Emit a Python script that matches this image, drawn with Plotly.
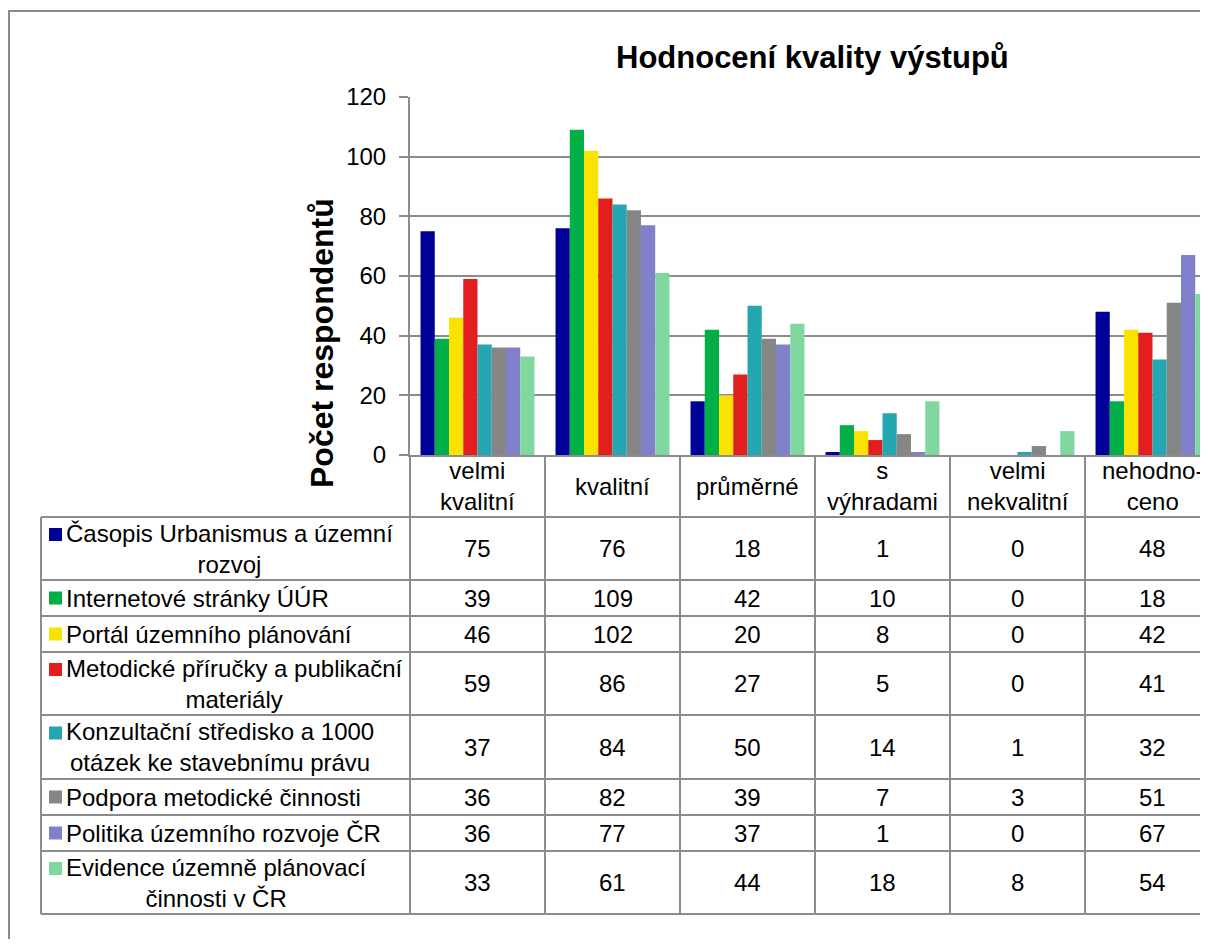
import plotly.graph_objects as go

# ---------------- data ----------------
categories = ["velmi\nkvalitní", "kvalitní", "průměrné", "s\nvýhradami", "velmi\nnekvalitní", "nehodno-\nceno"]
series_names = [
    "Časopis Urbanismus a územní\nrozvoj",
    "Internetové stránky ÚÚR",
    "Portál územního plánování",
    "Metodické příručky a publikační\nmateriály",
    "Konzultační středisko a 1000\notázek ke stavebnímu právu",
    "Podpora metodické činnosti",
    "Politika územního rozvoje ČR",
    "Evidence územně plánovací\nčinnosti v ČR",
]
casopis = [75, 76, 18, 1, 0, 48]
internet = [39, 109, 42, 10, 0, 18]
portal = [46, 102, 20, 8, 0, 42]
metodicke = [59, 86, 27, 5, 0, 41]
konzultacni = [37, 84, 50, 14, 1, 32]
podpora = [36, 82, 39, 7, 3, 51]
politika = [36, 77, 37, 1, 0, 67]
evidence = [33, 61, 44, 18, 8, 54]
series_values = [casopis, internet, portal, metodicke, konzultacni, podpora, politika, evidence]
colors = ["#000099", "#00AF45", "#FAE300", "#E21F1E", "#24A7B1", "#868686", "#8080CB", "#80D8A0"]
y_ticks = [0, 20, 40, 60, 80, 100, 120]

title = "Hodnocení kvality výstupů"
y_title = "Počet respondentů"

# ---------------- layout geometry (page pixels; figure sits at 8px body margin) ----------------
OFF = 8
W, H = 1208 - OFF, 947 - 2 * OFF
L, R, T, B = 410, 1208, 97, 455
FONT = "Liberation Sans, Arial, sans-serif"
GRID = "#8c8c8c"
row_bounds = [517, 580, 616, 652, 715, 779, 815, 851, 914]
table_left = 41


def px(xp):
    return (xp - L) / (R - L)


def py(yp):
    return (B - yp) / (B - T)


x_idx = list(range(len(categories)))

fig = go.Figure()
for name, vals, col in zip(series_names, series_values, colors):
    fig.add_trace(go.Bar(
        x=x_idx, y=vals, name=name.replace("\n", " "),
        marker=dict(color=col, line=dict(width=0)),
        showlegend=False,
    ))

shapes = []
annotations = []

# outer chart border
shapes.append(dict(type="rect", xref="paper", yref="paper",
                   x0=px(9), x1=px(1230), y0=py(11), y1=py(960),
                   line=dict(color="#8a8a8a", width=2), fillcolor="rgba(0,0,0,0)", layer="below"))

# table horizontal lines
for yb in row_bounds:
    shapes.append(dict(type="line", xref="paper", yref="paper",
                       x0=px(table_left), x1=px(1230), y0=py(yb), y1=py(yb),
                       line=dict(color=GRID, width=2)))
# table left border
shapes.append(dict(type="line", xref="paper", yref="paper",
                   x0=px(table_left), x1=px(table_left), y0=py(row_bounds[0]), y1=py(row_bounds[-1]),
                   line=dict(color=GRID, width=2)))
# y-axis line continued through table
shapes.append(dict(type="line", xref="paper", yref="paper",
                   x0=0, x1=0, y0=py(B), y1=py(row_bounds[-1]),
                   line=dict(color=GRID, width=2)))
# category column separators
for i in x_idx:
    shapes.append(dict(type="line", xref="x", yref="paper",
                       x0=i + 0.5, x1=i + 0.5, y0=py(B), y1=py(row_bounds[-1]),
                       line=dict(color=GRID, width=2)))

# header labels
for i, c in enumerate(categories):
    annotations.append(dict(xref="x", yref="paper", x=i, y=py((B + row_bounds[0]) / 2),
                            text=c.replace("\n", "<br>"), showarrow=False,
                            xanchor="center", yanchor="middle", align="center",
                            font=dict(family=FONT, size=24, color="black")))

# rows
for r, (name, vals, col) in enumerate(zip(series_names, series_values, colors)):
    yc = (row_bounds[r] + row_bounds[r + 1]) / 2
    two = "\n" in name
    my = yc - 14 if two else yc
    shapes.append(dict(type="rect", xref="paper", yref="paper",
                       x0=px(49), x1=px(62), y0=py(my - 6.5), y1=py(my + 6.5),
                       fillcolor=col, line=dict(width=0)))
    annotations.append(dict(xref="paper", yref="paper", x=px(65), y=py(yc),
                            text=name.replace("\n", "<br>"), showarrow=False,
                            xanchor="left", yanchor="middle", align="center", borderpad=0,
                            font=dict(family=FONT, size=24, color="black")))
    for i, v in enumerate(vals):
        annotations.append(dict(xref="x", yref="paper", x=i, y=py(yc),
                                text=str(v), showarrow=False,
                                xanchor="center", yanchor="middle",
                                font=dict(family=FONT, size=24, color="black")))

# title
annotations.append(dict(xref="paper", yref="paper", x=px(812), y=py(58),
                        text="<b>" + title + "</b>", showarrow=False,
                        xanchor="center", yanchor="middle",
                        font=dict(family=FONT, size=31, color="black")))
# y axis title
annotations.append(dict(xref="paper", yref="paper", x=px(322), y=py(343),
                        text="<b>" + y_title + "</b>", showarrow=False, textangle=-90,
                        xanchor="center", yanchor="middle",
                        font=dict(family=FONT, size=32, color="black")))

fig.update_layout(
    width=W, height=H,
    margin=dict(l=L - OFF, r=(W + OFF) - R, t=T - OFF, b=(H + OFF) - B, pad=0),
    paper_bgcolor="white", plot_bgcolor="white",
    barmode="group", bargap=0.156, bargroupgap=0,
    shapes=shapes, annotations=annotations,
    font=dict(family=FONT, color="black"),
    xaxis=dict(range=[-0.5, -0.5 + (R - L) / 135.0], showticklabels=False, showgrid=False,
               zeroline=False, showline=True, linecolor=GRID, linewidth=2, ticks="",
               fixedrange=True),
    yaxis=dict(range=[0, 120], tickvals=y_ticks, ticks="outside", ticklen=9, tickwidth=2,
               tickcolor=GRID, showline=True, linecolor=GRID, linewidth=2,
               showgrid=True, gridcolor=GRID, gridwidth=2, zeroline=False,
               tickfont=dict(family=FONT, size=24, color="black"), ticklabelstandoff=8,
               fixedrange=True),
)

fig.write_html("out.html")
